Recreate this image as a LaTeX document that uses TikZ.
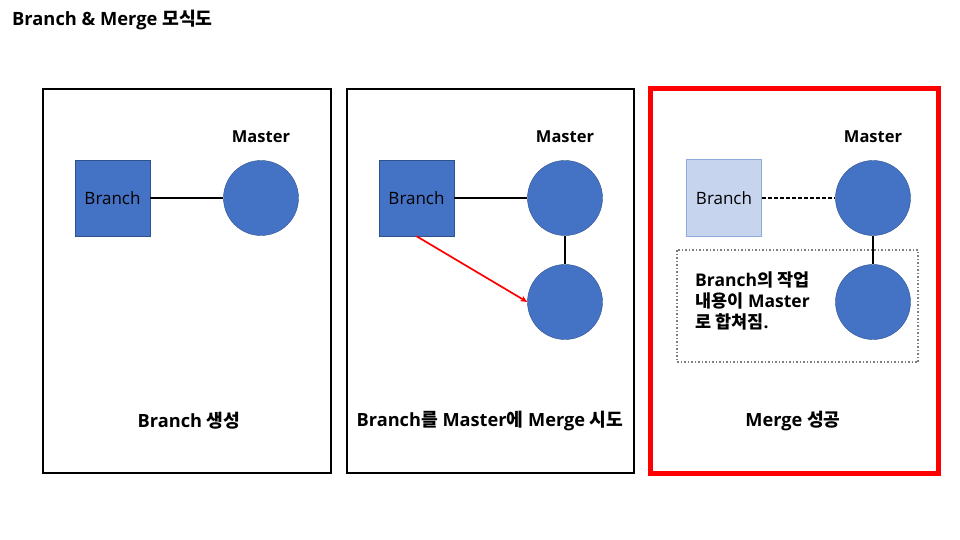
\documentclass[tikz,border=0pt]{standalone}
\usepackage{fontspec}
\setmainfont{Open Sans}
\newfontfamily\kr{Noto Sans CJK KR}
\usetikzlibrary{arrows.meta}
\definecolor{blu}{HTML}{4472C4}
\definecolor{bludk}{HTML}{2F528F}
\definecolor{lblu}{HTML}{C7D4EE}
\definecolor{lbord}{HTML}{8FAADC}
\definecolor{gry}{HTML}{7F7F7F}
\tikzset{
  panel/.style={draw=black, line width=2pt},
  okpanel/.style={draw=red, line width=5pt},
  sq/.style={rectangle, fill=blu, draw=bludk, line width=0.4pt, minimum width=75pt, minimum height=76pt, inner sep=0pt, font=\fontsize{17}{19}\selectfont},
  lsq/.style={sq, fill=lblu, draw=lbord, line width=1pt},
  cir/.style={circle, fill=blu, draw=bludk, line width=0.4pt, minimum size=75pt, inner sep=0pt},
  lbl/.style={font=\fontsize{16.5}{18}\selectfont\bfseries, inner sep=0pt},
  captext/.style={font=\fontsize{18.2}{20}\selectfont\bfseries, inner sep=0pt},
  link/.style={draw=black, line width=1.3pt},
}
\begin{document}
\begin{tikzpicture}[x=1pt,y=-1pt]
\useasboundingbox (0,0) rectangle (960,540);
\node[anchor=west, font=\fontsize{18.3}{20}\selectfont\bfseries, inner sep=0pt] (title) at (12,20) {Branch \& Merge {\kr 모식도}};
% panels
\draw[panel] (43,89) rectangle (331,473);
\draw[panel] (347,89) rectangle (634,473);
\draw[okpanel] (650,89) rectangle (938,473);
% panel 1
\node[sq] (b1) at (112.5,198) {Branch};
\node[cir] (m1) at (261,198) {};
\node[lbl] (mt1) at (261,137) {Master};
\draw[link] (b1) -- (m1);
\node[captext] (c1) at (189,421) {Branch {\kr 생성}};
% panel 2
\node[sq] (b2) at (416.5,198) {Branch};
\node[cir] (m2) at (565,198) {};
\node[cir] (n2) at (565,302) {};
\node[lbl] (mt2) at (565,137) {Master};
\draw[link] (b2) -- (m2);
\draw[link] (m2) -- (n2);
\draw[red, line width=1.7pt, -{Stealth[length=7pt,width=6pt]}] (b2.south) -- (n2.west);
\node[captext] (c2) at (490,421) {Branch{\kr 를} Master{\kr 에} Merge {\kr 시도}};
% panel 3
\node[lsq] (b3) at (724,198) {Branch};
\node[cir] (m3) at (873,198) {};
\node[cir] (n3) at (873,302) {};
\node[lbl] (mt3) at (873,137) {Master};
\draw[black, line width=1.2pt, dash pattern=on 4pt off 2pt] (b3) -- (m3);
\draw[link] (m3) -- (n3);
\draw[gry, line width=1.5pt, dash pattern=on 1.5pt off 2pt] (677,250) rectangle (918,362);
\node[anchor=north west, align=left, font=\fontsize{17.5}{21}\selectfont\bfseries, inner sep=0pt] (note) at (695,272) {Branch{\kr 의 작업}\\{\kr 내용이} Master\\{\kr 로 합쳐짐}.};
\node[captext] (c3) at (793,421) {Merge {\kr 성공}};
\end{tikzpicture}
\end{document}
